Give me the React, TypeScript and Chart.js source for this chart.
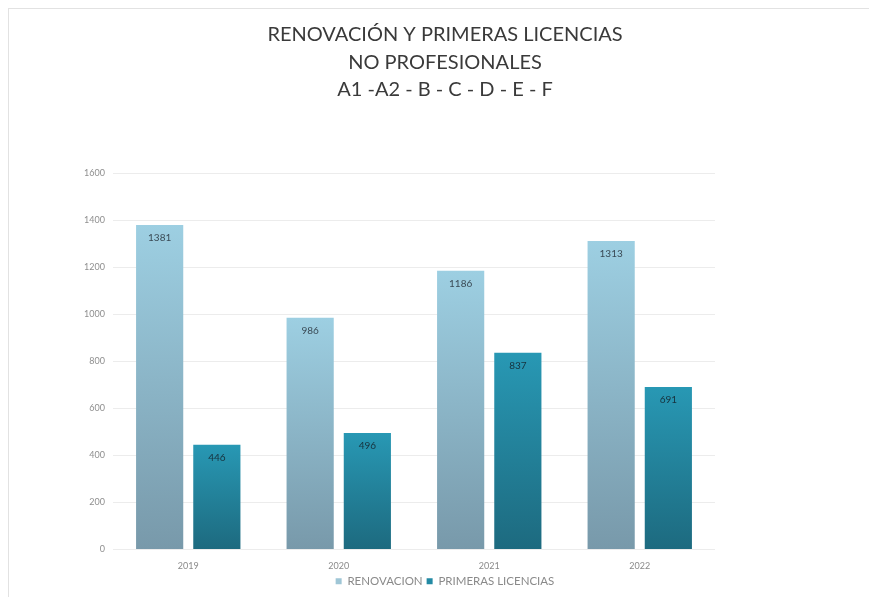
import React, { useEffect, useRef } from "react";
import { Chart, registerables } from "chart.js";

Chart.register(...registerables);

const categories = ["2019", "2020", "2021", "2022"];
const renovacion = [1381, 986, 1186, 1313];
const primeras = [446, 496, 837, 691];
const titleLines = ["RENOVACIÓN Y PRIMERAS LICENCIAS", "NO PROFESIONALES", "A1 -A2 - B - C - D - E - F"];
const seriesNames = ["RENOVACION", "PRIMERAS LICENCIAS"];
const yMax = 1600;
const yStep = 200;

const gradFor = (top: string, bottom: string) => (ctx: any) => {
  const chart = ctx.chart;
  const area = chart.chartArea;
  const ys = chart.scales?.y;
  if (!area || !ys || ctx.type !== "data") return top;
  const v = ctx.raw as number;
  const yTop = ys.getPixelForValue(v);
  const yBot = ys.getPixelForValue(0);
  const g = chart.ctx.createLinearGradient(0, yTop, 0, yBot);
  g.addColorStop(0, top);
  g.addColorStop(1, bottom);
  return g;
};

const valueLabels = {
  id: "valueLabels",
  afterDatasetsDraw(chart: any) {
    const ctx = chart.ctx;
    ctx.save();
    ctx.font = "10px Lato";
    ctx.textAlign = "center";
    ctx.textBaseline = "middle";
    chart.data.datasets.forEach((ds: any, i: number) => {
      const meta = chart.getDatasetMeta(i);
      ctx.fillStyle = i === 0 ? "#3a4a55" : "#17323d";
      meta.data.forEach((bar: any, j: number) => {
        ctx.fillText(String(ds.data[j]), bar.x, bar.y + 13);
      });
    });
    ctx.restore();
  },
};

export default function App() {
  const ref = useRef<HTMLCanvasElement>(null);
  useEffect(() => {
    if (!ref.current) return;
    const chart = new Chart(ref.current, {
      type: "bar",
      data: {
        labels: categories,
        datasets: [
          {
            label: seriesNames[0],
            data: renovacion,
            backgroundColor: gradFor("#9dcfe2", "#7899aa"),
            borderWidth: 0,
            categoryPercentage: 0.76,
            barPercentage: 0.825,
          },
          {
            label: seriesNames[1],
            data: primeras,
            backgroundColor: gradFor("#2898b4", "#1d6a7f"),
            borderWidth: 0,
            categoryPercentage: 0.76,
            barPercentage: 0.825,
          },
        ],
      },
      options: {
        animation: false,
        responsive: false,
        layout: { padding: { left: 29, right: 8, top: 21, bottom: 0 } },
        plugins: {
          title: {
            display: true,
            text: titleLines,
            color: "#3a3a3a",
            font: { family: "Lato", size: 20, weight: "normal", lineHeight: 1.375 },
            padding: { top: 0, bottom: 70 },
          },
          legend: {
            position: "bottom",
            labels: {
              boxWidth: 6,
              boxHeight: 6,
              color: "#8a8a8a",
              font: { family: "Lato", size: 11.5 },
              padding: 4,
              generateLabels: (chart: any) =>
                chart.data.datasets.map((ds: any, i: number) => ({
                  text: ds.label,
                  fillStyle: i === 0 ? "#9fc6d6" : "#238aa4",
                  strokeStyle: "transparent",
                  lineWidth: 0,
                  datasetIndex: i,
                  fontColor: "#8a8a8a",
                })),
            },
          },
          tooltip: { enabled: false },
        },
        scales: {
          x: {
            grid: { display: false },
            border: { display: false },
            ticks: { color: "#8a8a8a", font: { family: "Lato", size: 9 }, padding: 3 },
            afterFit: (s: any) => {
              s.height = 22;
            },
          },
          y: {
            min: 0,
            max: yMax,
            ticks: {
              stepSize: yStep,
              color: "#8f8f8f",
              font: { family: "Lato", size: 9 },
              padding: 8,
              callback: (v: any) => String(v),
            },
            grid: { color: "#ececec", drawTicks: false },
            border: { display: false },
            afterFit: (s: any) => {
              s.width = 84;
            },
          },
          yr: {
            position: "right",
            display: true,
            grid: { display: false },
            border: { display: false },
            ticks: { display: false },
            afterFit: (s: any) => {
              s.width = 146;
            },
          },
        },
      },
      plugins: [valueLabels],
    });
    return () => chart.destroy();
  }, []);
  return (
    <div style={{ position: "fixed", left: 0, top: 0, width: 869, height: 597, background: "#fff" }}>
      <div
        style={{
          position: "absolute",
          left: 8,
          top: 8,
          width: 870,
          height: 600,
          borderTop: "1px solid #e2e2e2",
          borderLeft: "1px solid #e2e2e2",
        }}
      />
      <canvas ref={ref} width={869} height={597} style={{ position: "absolute", left: 0, top: 0 }} />
    </div>
  );
}
